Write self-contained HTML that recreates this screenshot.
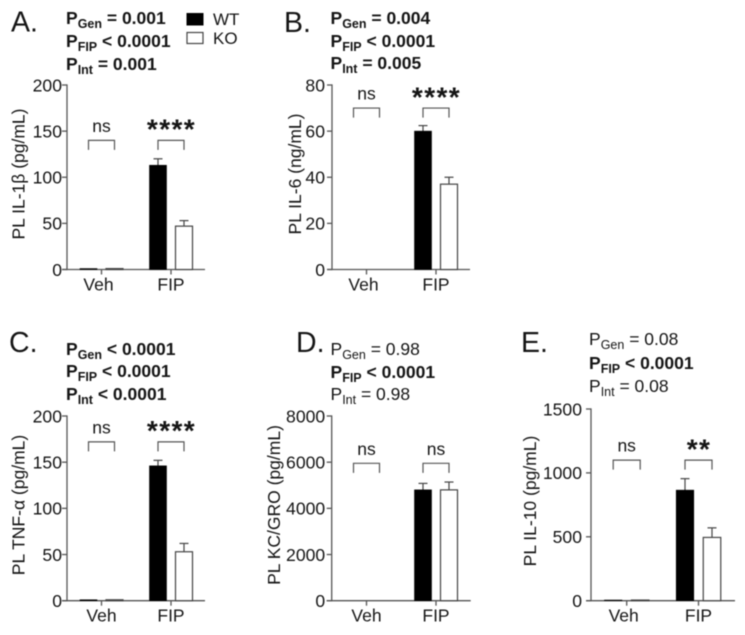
<!DOCTYPE html>
<html lang="en">
<head>
<meta charset="utf-8">
<title>Plasma cytokine panels</title>
<style>
html,body{margin:0;padding:0;background:#fff;}
#figure{display:block;filter:blur(0.45px);}
text{font-family:"Liberation Sans",Arial,sans-serif;fill:#151515;}
.letter{font-size:28.5px;}
.hdr{font-size:17.5px;}
.b{font-weight:bold;}
.sub{font-size:12.5px;}
.leg{font-size:17px;}
</style>
</head>
<body>
<svg id="figure" xmlns="http://www.w3.org/2000/svg" width="745" height="635" viewBox="0 0 745 635">
<rect width="745" height="635" fill="#fff"/>

<g>
<text class="letter" x="11" y="31.5">A.</text>
<text class="hdr b" x="66" y="24">P<tspan class="sub" dy="4">Gen</tspan><tspan dy="-4"> = 0.001</tspan></text>
<text class="hdr b" x="66" y="47">P<tspan class="sub" dy="4">FIP</tspan><tspan dy="-4"> &lt; 0.0001</tspan></text>
<text class="hdr b" x="66" y="70">P<tspan class="sub" dy="4">Int</tspan><tspan dy="-4"> = 0.001</tspan></text>
</g>

<g>
<rect x="187" y="13.5" width="16" height="11.5" fill="#000" stroke="#000"/>
<text class="leg" x="213" y="25">WT</text>
<rect x="187" y="32.5" width="16" height="11" fill="#fff" stroke="#444" stroke-width="1.2"/>
<text class="leg" x="213" y="44">KO</text>
</g>

<g>
<text class="letter" x="284" y="32">B.</text>
<text class="hdr b" x="330.5" y="24">P<tspan class="sub" dy="4">Gen</tspan><tspan dy="-4"> = 0.004</tspan></text>
<text class="hdr b" x="330.5" y="47">P<tspan class="sub" dy="4">FIP</tspan><tspan dy="-4"> &lt; 0.0001</tspan></text>
<text class="hdr b" x="330.5" y="69">P<tspan class="sub" dy="4">Int</tspan><tspan dy="-4"> = 0.005</tspan></text>
</g>

<g>
<text class="letter" x="9" y="352">C.</text>
<text class="hdr b" x="66" y="355">P<tspan class="sub" dy="4">Gen</tspan><tspan dy="-4"> &lt; 0.0001</tspan></text>
<text class="hdr b" x="66" y="377">P<tspan class="sub" dy="4">FIP</tspan><tspan dy="-4"> &lt; 0.0001</tspan></text>
<text class="hdr b" x="66" y="400">P<tspan class="sub" dy="4">Int</tspan><tspan dy="-4"> &lt; 0.0001</tspan></text>
</g>

<g>
<text class="letter" x="296" y="352">D.</text>
<text class="hdr" x="330.5" y="355">P<tspan class="sub" dy="4">Gen</tspan><tspan dy="-4"> = 0.98</tspan></text>
<text class="hdr b" x="330.5" y="378">P<tspan class="sub" dy="4">FIP</tspan><tspan dy="-4"> &lt; 0.0001</tspan></text>
<text class="hdr" x="330.5" y="400">P<tspan class="sub" dy="4">Int</tspan><tspan dy="-4"> = 0.98</tspan></text>
</g>

<g>
<text class="letter" x="521" y="352">E.</text>
<text class="hdr" x="589" y="345">P<tspan class="sub" dy="4">Gen</tspan><tspan dy="-4"> = 0.08</tspan></text>
<text class="hdr b" x="589" y="369">P<tspan class="sub" dy="4">FIP</tspan><tspan dy="-4"> &lt; 0.0001</tspan></text>
<text class="hdr" x="589" y="392">P<tspan class="sub" dy="4">Int</tspan><tspan dy="-4"> = 0.08</tspan></text>
</g>
</svg>

<script>
// ---- chart data ----
const categories = ["Veh", "FIP"];

const panelAYTicks = [0, 50, 100, 150, 200];
const panelAWt = [1, 113];
const panelAKo = [1, 47];
const panelAWtErr = [0, 7];
const panelAKoErr = [0, 6];
const panelASignif = ["ns", "****"];
const panelABracket = [140, 140];

const panelBYTicks = [0, 20, 40, 60, 80];
const panelBWt = [0, 60];
const panelBKo = [0, 37];
const panelBWtErr = [0, 2.4];
const panelBKoErr = [0, 3];
const panelBSignif = ["ns", "****"];
const panelBBracket = [70, 70];

const panelCYTicks = [0, 50, 100, 150, 200];
const panelCWt = [1, 146];
const panelCKo = [1, 53];
const panelCWtErr = [0, 6];
const panelCKoErr = [0, 9];
const panelCSignif = ["ns", "****"];
const panelCBracket = [172, 172];

const panelDYTicks = [0, 2000, 4000, 6000, 8000];
const panelDWt = [0, 4800];
const panelDKo = [0, 4800];
const panelDWtErr = [0, 280];
const panelDKoErr = [0, 340];
const panelDSignif = ["ns", "ns"];
const panelDBracket = [5950, 5950];

const panelEYTicks = [0, 500, 1000, 1500];
const panelEWt = [5, 865];
const panelEKo = [5, 495];
const panelEWtErr = [0, 90];
const panelEKoErr = [0, 75];
const panelESignif = ["ns", "**"];
const panelEBracket = [1100, 1100];

// ---- layout ----
const panels = [
  {id:"a", title:"PL IL-1β (pg/mL)", ticks:panelAYTicks, wt:panelAWt, ko:panelAKo, wtErr:panelAWtErr, koErr:panelAKoErr, sig:panelASignif, br:panelABracket,
   left:67, right:205, top:85, bottom:269.5, c0:34.5, c1:104, off:13, bw:17, titleX:24.5, titleY:174, vehShift:-3, gap:5},
  {id:"b", title:"PL IL-6 (ng/mL)", ticks:panelBYTicks, wt:panelBWt, ko:panelBKo, wtErr:panelBWtErr, koErr:panelBKoErr, sig:panelBSignif, br:panelBBracket,
   left:332, right:470, top:85, bottom:269.5, c0:34.5, c1:104, off:13, bw:17, titleX:301, titleY:174, vehShift:-3, gap:7},
  {id:"c", title:"PL TNF-α (pg/mL)", ticks:panelCYTicks, wt:panelCWt, ko:panelCKo, wtErr:panelCWtErr, koErr:panelCKoErr, sig:panelCSignif, br:panelCBracket,
   left:67, right:205, top:416, bottom:600.7, c0:34.5, c1:104, off:13, bw:17, titleX:24.5, titleY:505, vehShift:0, gap:5},
  {id:"d", title:"PL KC/GRO (pg/mL)", ticks:panelDYTicks, wt:panelDWt, ko:panelDKo, wtErr:panelDWtErr, koErr:panelDKoErr, sig:panelDSignif, br:panelDBracket,
   left:331.7, right:470.7, top:416, bottom:600.7, c0:34.8, c1:104.3, off:13, bw:17, titleX:280, titleY:505, vehShift:0, gap:6.5},
  {id:"e", title:"PL IL-10 (pg/mL)", ticks:panelEYTicks, wt:panelEWt, ko:panelEKo, wtErr:panelEWtErr, koErr:panelEKoErr, sig:panelESignif, br:panelEBracket,
   left:591, right:735, top:409, bottom:600.7, c0:35.7, c1:107.5, off:13.5, bw:17.5, titleX:536, titleY:501, vehShift:-3, gap:9}
];

const SVGNS = "http://www.w3.org/2000/svg";
const AXIS = "#555";
const root = document.getElementById("figure");

function mk(parent, tag, attrs, txt) {
  const el = document.createElementNS(SVGNS, tag);
  for (const k in attrs) el.setAttribute(k, attrs[k]);
  if (txt !== undefined) el.textContent = txt;
  parent.appendChild(el);
  return el;
}

function drawPanel(p) {
  const yMax = p.ticks[p.ticks.length - 1];
  const yScale = v => p.bottom - (v / yMax) * (p.bottom - p.top);
  const xScale = i => p.left + (i === 0 ? p.c0 : p.c1);

  const g = mk(root, "g", {});
  
  

  // axes
  const yAxis = mk(g, "line", {x1:p.left, x2:p.left, y1:p.top - 0.6, y2:p.bottom + 0.6, stroke:AXIS, "stroke-width":1.3});
  
  
  const xAxis = mk(g, "line", {x1:p.left - 5, x2:p.right, y1:p.bottom, y2:p.bottom, stroke:AXIS, "stroke-width":1.3});
  
  

  // y ticks
  p.ticks.forEach(t => {
    const y = yScale(t);
    const tk = mk(g, "line", {x1:p.left - 5, x2:p.left, y1:y, y2:y, stroke:AXIS, "stroke-width":1.3});
    
    
    const lb = mk(g, "text", {x:p.left - p.gap, y:y + 6.3, "text-anchor":"end", "font-size":17.6}, String(t));
    
    
  });

  // y title
  const yt = mk(g, "text", {x:p.titleX, y:p.titleY, "text-anchor":"middle", "font-size":17.5,
    transform:"rotate(-90 " + p.titleX + " " + p.titleY + ")"}, p.title);
  
  

  categories.forEach((cat, i) => {
    const cx = xScale(i);

    const tk = mk(g, "line", {x1:cx, x2:cx, y1:p.bottom, y2:p.bottom + 5, stroke:AXIS, "stroke-width":1.3});
    
    
    const lb = mk(g, "text", {x:cx + (i === 0 ? p.vehShift : 0), y:p.bottom + 21, "text-anchor":"middle", "font-size":17.5}, cat);
    
    

    // error bars are drawn first so the bars sit on top
    [[p.wtErr[i], p.wt[i], -p.off], [p.koErr[i], p.ko[i], p.off]].forEach(e => {
      if (e[0] > 0) {
        const ex = cx + e[2];
        const topY = yScale(e[1] + e[0]);
        const st = mk(g, "line", {x1:ex, x2:ex, y1:yScale(e[1]), y2:topY, stroke:"#444", "stroke-width":1.2});
        
        
        const cap = mk(g, "line", {x1:ex - 4.5, x2:ex + 4.5, y1:topY, y2:topY, stroke:"#444", "stroke-width":1.2});
        
        
      }
    });

    // WT bar
    const wy = yScale(p.wt[i]);
    const wb = mk(g, "rect", {x:cx - p.off - p.bw / 2, y:wy, width:p.bw, height:p.bottom - wy, fill:"#000", stroke:"#000", "stroke-width":0.6});
    
    

    // KO bar
    const ky = yScale(p.ko[i]);
    const kb = mk(g, "rect", {x:cx + p.off - p.bw / 2, y:ky, width:p.bw, height:p.bottom - ky, fill:"#fff", stroke:"#444", "stroke-width":1.2});
    
    

    // significance bracket
    const by = yScale(p.br[i]);
    const br = mk(g, "path", {d:"M" + (cx - p.off) + " " + (by + 9.5) + "V" + by + "H" + (cx + p.off) + "V" + (by + 9.5), fill:"none", stroke:"#555", "stroke-width":1.2});
    
    

    const isStars = p.sig[i].charAt(0) === "*";
    const sg = mk(g, "text", {x:cx + (isStars ? 0.5 : 0), y:isStars ? by - 1.8 : by - 8.5, "text-anchor":"middle",
      "font-size":isStars ? 28 : 17.5, "font-weight":isStars ? "bold" : "normal",
      "letter-spacing":isStars ? 1.4 : 0}, p.sig[i]);
    
    
  });
}

panels.forEach(drawPanel);
</script>
</body>
</html>
